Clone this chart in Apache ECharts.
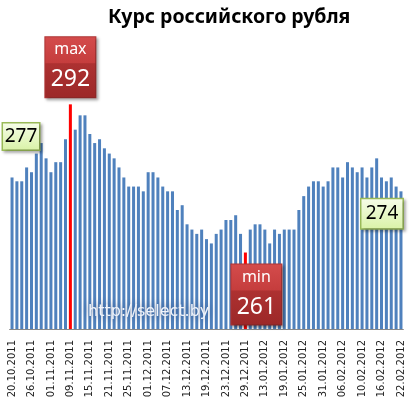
<!DOCTYPE html>
<html>
<head>
<meta charset="utf-8">
<script src="https://cdn.jsdelivr.net/npm/echarts@6/dist/echarts.min.js"></script>
<style>
    html, body { margin: 0; padding: 0; background: #fff; }
    #chart { width: 411px; height: 405px; }
</style>
</head>
<body>
<div id="chart"></div>
<script>
const dates = [
    '20.10.2011', '21.10.2011', '24.10.2011', '25.10.2011', '26.10.2011', '27.10.2011', '28.10.2011', '31.10.2011',
    '01.11.2011', '02.11.2011', '03.11.2011', '04.11.2011', '09.11.2011', '10.11.2011', '11.11.2011', '14.11.2011',
    '15.11.2011', '16.11.2011', '17.11.2011', '18.11.2011', '21.11.2011', '22.11.2011', '23.11.2011', '24.11.2011',
    '25.11.2011', '28.11.2011', '29.11.2011', '30.11.2011', '01.12.2011', '02.12.2011', '05.12.2011', '06.12.2011',
    '07.12.2011', '08.12.2011', '09.12.2011', '12.12.2011', '13.12.2011', '14.12.2011', '15.12.2011', '16.12.2011',
    '19.12.2011', '20.12.2011', '21.12.2011', '22.12.2011', '23.12.2011', '26.12.2011', '27.12.2011', '28.12.2011',
    '29.12.2011', '30.12.2011', '11.01.2012', '12.01.2012', '13.01.2012', '16.01.2012', '17.01.2012', '18.01.2012',
    '19.01.2012', '20.01.2012', '23.01.2012', '24.01.2012', '25.01.2012', '26.01.2012', '27.01.2012', '30.01.2012',
    '31.01.2012', '01.02.2012', '02.02.2012', '03.02.2012', '06.02.2012', '07.02.2012', '08.02.2012', '09.02.2012',
    '10.02.2012', '13.02.2012', '14.02.2012', '15.02.2012', '16.02.2012', '17.02.2012', '20.02.2012', '21.02.2012',
    '22.02.2012'
]

// курс, руб.
const rates = [
    276.7, 275.9, 275.9, 278.8, 277.8, 281.7, 283.9, 280.7,
    277.8, 279.9, 279.9, 284.7, 292.0, 286.7, 289.7, 289.7,
    285.8, 283.9, 284.7, 282.8, 281.7, 280.7, 278.8, 276.7,
    274.8, 274.8, 274.8, 273.8, 277.8, 277.8, 276.7, 274.8,
    273.8, 273.8, 269.9, 270.9, 266.9, 265.8, 264.9, 265.8,
    263.8, 262.9, 264.9, 265.8, 267.8, 267.8, 268.8, 264.9,
    261.0, 265.8, 266.9, 266.9, 265.8, 262.9, 265.8, 264.9,
    265.8, 265.8, 265.8, 269.9, 272.8, 274.8, 275.9, 275.9,
    274.8, 275.9, 278.8, 278.8, 276.7, 279.9, 278.8, 277.8,
    278.8, 276.7, 278.8, 280.7, 276.7, 275.9, 276.7, 274.8,
    273.8
]

const yMin = 245
const yMax = 295

let maxIdx = rates.indexOf(Math.max(...rates))
let minIdx = rates.indexOf(Math.min(...rates))
let lastIdx = rates.length - 1

function redBox(name, offset, distance) {
    return {
        show: true,
        position: 'top',
        distance: distance,
        offset: offset,
        formatter: p => `{a|${name}}\n{b|${Math.round(p.value)}}`,
        backgroundColor: new echarts.graphic.LinearGradient(0, 0, 0, 1, [
            {offset: 0, color: '#d44c4c'},
            {offset: 0.43, color: '#c53d3d'},
            {offset: 0.44, color: '#ad3131'},
            {offset: 1, color: '#9c2828'}
        ]),
        borderColor: '#b03434',
        borderWidth: 1,
        shadowColor: 'rgba(0,0,0,0.35)',
        shadowBlur: 3,
        shadowOffsetX: 2,
        shadowOffsetY: 2,
        rich: {
            a: {width: 50, height: 25, lineHeight: 25, align: 'center', color: '#fff', fontSize: 16, fontFamily: 'Noto Sans'},
            b: {width: 50, height: 35, lineHeight: 35, align: 'center', color: '#fff', fontSize: 23, fontFamily: 'Noto Sans'}
        }
    }
}

function greenBox(w, h, offset) {
    return {
        show: true,
        position: 'top',
        distance: 0,
        offset: offset,
        formatter: p => `{v|${Math.round(p.value)}}`,
        backgroundColor: new echarts.graphic.LinearGradient(0, 0, 0, 1, [
            {offset: 0, color: '#f7fdea'},
            {offset: 1, color: '#d9f2a6'}
        ]),
        borderColor: '#9bbb59',
        borderWidth: 1.5,
        shadowColor: 'rgba(0,0,0,0.3)',
        shadowBlur: 3,
        shadowOffsetX: 2,
        shadowOffsetY: 2,
        rich: {
            v: {width: w, height: h, lineHeight: h, align: 'center', color: '#000', fontSize: 19, fontFamily: 'Noto Sans'}
        }
    }
}

let barData = rates.map((v, i) => {
    let item = {value: v}
    if (i === maxIdx) {
        item.itemStyle = {color: '#ff0000'}
        item.label = redBox('max', [0, 0], 7)
    } else if (i === minIdx) {
        item.itemStyle = {color: '#ff0000'}
        item.label = redBox('min', [11, 72], 0)
    } else if (i === 0) {
        item.label = greenBox(36, 26, [9, -28])
    } else if (i === lastIdx) {
        item.label = greenBox(41, 29, [-19, 37])
    }
    return item
})

let chart = echarts.init(document.getElementById('chart'))
let option = {
    animation: false,
    title: {
        text: 'Курс российского рубля',
        left: 103,
        top: 2,
        textStyle: {
            color: '#000',
            fontSize: 19.5,
            fontWeight: 'bold',
            fontFamily: 'Noto Sans'
        }
    },
    grid: {
        left: 9.6,
        right: 7.6,
        top: 90,
        bottom: 76,
        containLabel: false,
        outerBoundsMode: 'none'
    },
    xAxis: {
        type: 'category',
        data: dates,
        axisLine: {lineStyle: {color: '#888', width: 1}},
        axisTick: {show: false},
        axisLabel: {
            rotate: 90,
            interval: 3,
            margin: 11,
            color: '#222',
            fontSize: 10,
            fontFamily: 'DejaVu Sans'
        }
    },
    yAxis: {
        type: 'value',
        min: yMin,
        max: yMax,
        show: false
    },
    graphic: [
        {
            type: 'text',
            left: 88,
            top: 304,
            z: 100,
            style: {
                text: 'http://select.by',
                fill: '#eef3fb',
                font: '16px "DejaVu Sans"',
                textShadowColor: '#17336b',
                textShadowBlur: 10
            }
        }
    ],
    series: [
        {
            type: 'bar',
            data: barData,
            barWidth: '62%',
            itemStyle: {color: '#4f81bd'}
        }
    ]
}
chart.setOption(option)
</script>
</body>
</html>
